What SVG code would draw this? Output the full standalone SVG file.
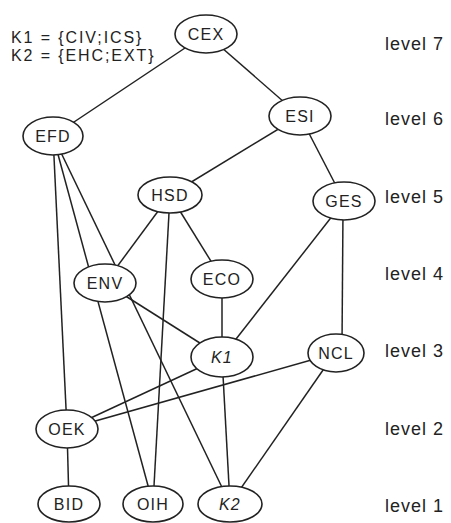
<svg xmlns="http://www.w3.org/2000/svg" width="451" height="523" viewBox="0 0 451 523">
<style>
.e{stroke:#222;stroke-width:1.5;fill:none}
.n ellipse{fill:#fff;stroke:#222;stroke-width:1.6}
.n text{font-family:"Liberation Sans",Arial,sans-serif;font-size:16px;letter-spacing:1.2px;fill:#222;text-anchor:middle}
.n text.i{font-style:italic}
.t{font-family:"Liberation Sans",Arial,sans-serif;font-size:18px;letter-spacing:1px;fill:#222}
.lg{font-family:"Liberation Sans",Arial,sans-serif;font-size:16px;letter-spacing:1.9px;fill:#222}
</style>
<rect width="451" height="523" fill="#fff"/>
<g id="connectors">
<line class="e" x1="206" y1="34" x2="53" y2="136"/>
<line class="e" x1="206" y1="34" x2="300" y2="116"/>
<line class="e" x1="300" y1="116" x2="170" y2="195"/>
<line class="e" x1="300" y1="116" x2="344" y2="201"/>
<line class="e" x1="53" y1="136" x2="67" y2="429"/>
<line class="e" x1="53" y1="136" x2="153" y2="504"/>
<line class="e" x1="53" y1="136" x2="230" y2="504"/>
<line class="e" x1="170" y1="195" x2="105" y2="283"/>
<line class="e" x1="170" y1="195" x2="222" y2="279"/>
<line class="e" x1="170" y1="195" x2="153" y2="504"/>
<line class="e" x1="344" y1="201" x2="222" y2="357"/>
<line class="e" x1="343" y1="210" x2="342" y2="345"/>
<line class="e" x1="105" y1="283" x2="222" y2="357"/>
<line class="e" x1="222" y1="279" x2="222" y2="357"/>
<line class="e" x1="222" y1="357" x2="67" y2="429"/>
<line class="e" x1="222" y1="357" x2="230" y2="504"/>
<line class="e" x1="336" y1="353" x2="67" y2="429"/>
<line class="e" x1="330" y1="360" x2="230" y2="504"/>
<line class="e" x1="67" y1="429" x2="69" y2="504"/>
</g>
<g id="CEX" class="n"><ellipse cx="206" cy="34" rx="31" ry="19"/><text x="206" y="40">CEX</text></g>
<g id="EFD" class="n"><ellipse cx="53" cy="136" rx="30" ry="19"/><text x="53" y="142">EFD</text></g>
<g id="ESI" class="n"><ellipse cx="300" cy="116" rx="31" ry="19"/><text x="300" y="122">ESI</text></g>
<g id="GES" class="n"><ellipse cx="344" cy="201" rx="31" ry="19"/><text x="344" y="207">GES</text></g>
<g id="HSD" class="n"><ellipse cx="170" cy="195" rx="32" ry="18"/><text x="170" y="201">HSD</text></g>
<g id="ENV" class="n"><ellipse cx="105" cy="283" rx="31" ry="19"/><text x="105" y="289">ENV</text></g>
<g id="ECO" class="n"><ellipse cx="222" cy="279" rx="31" ry="19"/><text x="222" y="285">ECO</text></g>
<g id="K1" class="n"><ellipse cx="222" cy="357" rx="31" ry="20"/><text class="i" x="222" y="363">K1</text></g>
<g id="NCL" class="n"><ellipse cx="336" cy="353" rx="28" ry="19"/><text x="336" y="359">NCL</text></g>
<g id="OEK" class="n"><ellipse cx="67" cy="429" rx="31" ry="19"/><text x="67" y="435">OEK</text></g>
<g id="BID" class="n"><ellipse cx="69" cy="504" rx="31" ry="18"/><text x="69" y="510">BID</text></g>
<g id="OIH" class="n"><ellipse cx="153" cy="504" rx="30" ry="18"/><text x="153" y="510">OIH</text></g>
<g id="K2" class="n"><ellipse cx="230" cy="504" rx="32" ry="18"/><text class="i" x="230" y="510">K2</text></g>
<g id="legend">
<text class="lg" x="11" y="43">K1 = {CIV;ICS}</text>
<text class="lg" x="11" y="61">K2 = {EHC;EXT}</text>
</g>
<g id="levels">
<text class="t" x="385" y="50">level 7</text>
<text class="t" x="385" y="125">level 6</text>
<text class="t" x="385" y="203">level 5</text>
<text class="t" x="385" y="280">level 4</text>
<text class="t" x="385" y="357">level 3</text>
<text class="t" x="385" y="435">level 2</text>
<text class="t" x="385" y="512">level 1</text>
</g>
</svg>
